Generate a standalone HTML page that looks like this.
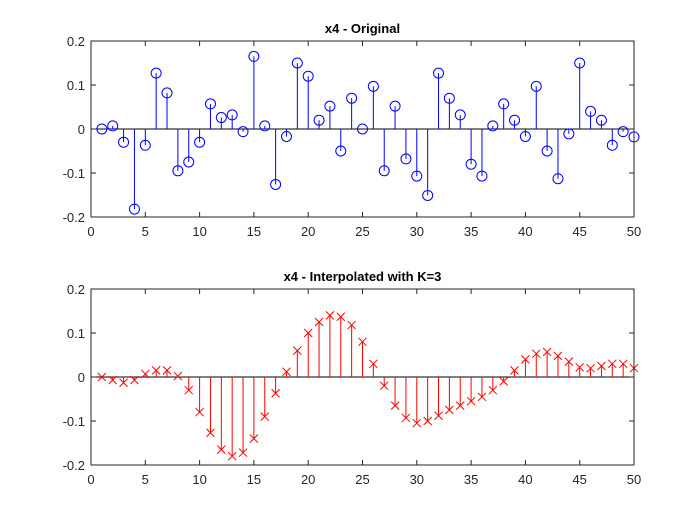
<!DOCTYPE html>
<html><head><meta charset="utf-8"><style>
body{margin:0;background:#fff;}
svg{display:block;font-family:"Liberation Sans",Arial,sans-serif;}
</style></head><body>
<svg id="fig" width="700" height="525" xmlns="http://www.w3.org/2000/svg"></svg>
<script>
const xValues = Array.from({length:50},(_,i)=>i+1);
const originalValues = [0,0.007,-0.03,-0.182,-0.037,0.127,0.082,-0.095,-0.075,-0.03,0.057,0.026,0.032,-0.006,0.165,0.007,-0.126,-0.017,0.15,0.12,0.02,0.052,-0.05,0.07,0,0.097,-0.095,0.052,-0.068,-0.107,-0.151,0.127,0.07,0.032,-0.08,-0.107,0.007,0.057,0.02,-0.017,0.097,-0.05,-0.113,-0.011,0.15,0.04,0.02,-0.037,-0.006,-0.018];
const interpValues = [0,-0.007,-0.013,-0.007,0.007,0.015,0.015,0.002,-0.03,-0.08,-0.127,-0.165,-0.18,-0.172,-0.14,-0.09,-0.037,0.012,0.06,0.1,0.125,0.14,0.137,0.118,0.08,0.03,-0.02,-0.065,-0.093,-0.105,-0.1,-0.088,-0.075,-0.065,-0.055,-0.045,-0.03,-0.01,0.015,0.04,0.053,0.057,0.048,0.035,0.022,0.02,0.025,0.03,0.03,0.02];
const xTicks = [0,5,10,15,20,25,30,35,40,45,50];
const yTicks = [0.2,0.1,0,-0.1,-0.2];
const yTickLabels = ["0.2","0.1","0","-0.1","-0.2"];

const NS="http://www.w3.org/2000/svg";
const svg=document.getElementById('fig');
function mk(t,a,p){const e=document.createElementNS(NS,t);for(const k in a)e.setAttribute(k,a[k]);(p||svg).appendChild(e);return e;}

function drawPanel(top,title,vals,color,marker,prefix){
  const L=91,R=634,T=top,B=top+176;
  const sx=v=>L+(v-0)/(50-0)*(R-L);
  const sy=v=>T+(0.2-v)/0.4*(B-T);
  const g=mk('g',{});
  
  
  mk('rect',{x:L,y:T,width:R-L,height:B-T,fill:'#fff',stroke:'none'},g);
  // baseline
  const bl=mk('line',{x1:L,x2:R,y1:sy(0),y2:sy(0),stroke:'#000','stroke-width':1},g);
  
  
  xValues.forEach((x,i)=>{
    const v=vals[i],cx=sx(x),cy=sy(v);
    const s=mk('line',{x1:cx,x2:cx,y1:sy(0),y2:cy,stroke:color,'stroke-width':1},g);
    
    
    let m;
    if(marker==='o'){m=mk('circle',{cx:cx,cy:cy,r:5,fill:'none',stroke:color,'stroke-width':1},g);}
    else{m=mk('path',{d:`M${cx-4},${cy-4}L${cx+4},${cy+4}M${cx-4},${cy+4}L${cx+4},${cy-4}`,stroke:color,'stroke-width':1,fill:'none'},g);}
    
    
  });
  mk('rect',{x:L,y:T,width:R-L,height:B-T,fill:'none',stroke:'#262626','stroke-width':1},g);
  xTicks.forEach(t=>{
    const x=sx(t);
    mk('line',{x1:x,x2:x,y1:B,y2:B-5,stroke:'#262626'},g);
    mk('line',{x1:x,x2:x,y1:T,y2:T+5,stroke:'#262626'},g);
    const tx=mk('text',{x:x,y:B+19,'text-anchor':'middle','font-size':13,fill:'#262626'},g);
    tx.textContent=t;
    
    
  });
  yTicks.forEach((t,i)=>{
    const y=sy(t);
    mk('line',{x1:L,x2:L+5,y1:y,y2:y,stroke:'#262626'},g);
    mk('line',{x1:R,x2:R-5,y1:y,y2:y,stroke:'#262626'},g);
    const ty=mk('text',{x:L-6,y:y+5,'text-anchor':'end','font-size':13,fill:'#262626'},g);
    ty.textContent=yTickLabels[i];
    
    
  });
  const tt=mk('text',{x:(L+R)/2,y:T-8,'text-anchor':'middle','font-size':13,'font-weight':'bold',fill:'#000'},g);
  tt.textContent=title;
  
  
}
drawPanel(41,'x4 - Original',originalValues,'#0000ff','o','original');
drawPanel(289,'x4 - Interpolated with K=3',interpValues,'#ff0000','x','interpolated');
</script>
</body></html>
